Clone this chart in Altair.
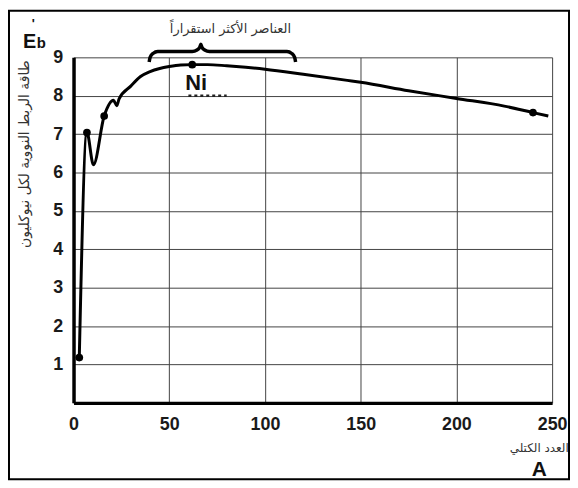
import altair as alt
import pandas as pd

# ---- data ----
mass_number = [3, 7, 10.4, 16, 20.9, 22.6, 23.8, 29.9, 35, 40, 45, 50, 56, 62, 70, 80, 90,
               100, 120, 143, 150, 175, 200, 225, 240, 248]
binding_energy = [1.18, 7.04, 6.2, 7.47, 7.88, 7.74, 7.92, 8.25, 8.5, 8.63, 8.71, 8.76, 8.8, 8.81,
                  8.81, 8.78, 8.74, 8.69, 8.56, 8.4, 8.35, 8.13, 7.93, 7.73, 7.56, 7.47]
marked_A = [3, 7, 16, 62, 240]
marked_E = [1.18, 7.04, 7.47, 8.81, 7.56]

x_ticks = [0, 50, 100, 150, 200, 250]
y_ticks = [1, 2, 3, 4, 5, 6, 7, 8, 9]

brace_A = [39.5, 40, 41.5, 44, 62, 64.5, 66, 66.5, 67, 68.5, 71, 111.5, 114, 115.5, 116]
brace_E = [8.88, 9.0, 9.1, 9.15, 9.15, 9.19, 9.27, 9.34, 9.27, 9.19, 9.15, 9.15, 9.1, 9.0, 8.88]

ni_dots_A = [60, 80]
ni_dots_E = [8.0, 8.0]

y_title = "طاقة الربط النووية لكل نيوكليون"
x_title = "العدد الكتلي"
top_note = "العناصر الأكثر استقراراً"

W, H = 482, 348
LABEL_FONT = "Liberation Sans Narrow, Arial Narrow, Liberation Sans, sans-serif"
AR_FONT = "DejaVu Sans, Noto Sans, sans-serif"

curve = pd.DataFrame({"A": mass_number, "E": binding_energy})
marks = pd.DataFrame({"A": marked_A, "E": marked_E})
brace = pd.DataFrame({"A": brace_A, "E": brace_E})
dots = pd.DataFrame({"A": ni_dots_A, "E": ni_dots_E})
one = pd.DataFrame({"k": [0]})

xscale = alt.Scale(domain=[0, 250], nice=False, zero=False)
yscale = alt.Scale(domain=[0, 9], nice=False, zero=False)

xaxis = alt.Axis(values=x_ticks, grid=True, gridColor="#444", gridWidth=1, domainColor="black",
                 domainWidth=3.5, ticks=False, labelFont=LABEL_FONT, labelFontSize=18,
                 labelFontWeight="bold", labelColor="#1a1a1a", labelPadding=13, title=None,
                 labelFlush=False)
yaxis = alt.Axis(values=y_ticks, grid=True, gridColor="#444", gridWidth=1, domainColor="black",
                 domainWidth=3.5, ticks=False, labelFont=LABEL_FONT, labelFontSize=18,
                 labelFontWeight="bold", labelColor="#1a1a1a", labelPadding=11,
                 title=y_title, titleFont=AR_FONT, titleFontSize=14, titleFontWeight="normal",
                 titleColor="#333", titleAngle=270, titleX=-49, titleY=97,
                 titleAlign="center", titleBaseline="middle", labelFlush=False)

frame = alt.Chart(one).mark_rect(fill=None, stroke="black", strokeWidth=2).encode(
    x=alt.value(-65), x2=alt.value(W + 17), y=alt.value(-47), y2=alt.value(H + 77)
)

line = alt.Chart(curve).mark_line(color="black", strokeWidth=3, interpolate="monotone").encode(
    x=alt.X("A:Q", scale=xscale, axis=xaxis),
    y=alt.Y("E:Q", scale=yscale, axis=yaxis),
)

pts = alt.Chart(marks).mark_circle(color="black", size=60, opacity=1).encode(
    x=alt.X("A:Q", scale=xscale), y=alt.Y("E:Q", scale=yscale)
)

brace_line = alt.Chart(brace).mark_line(color="black", strokeWidth=3.5, interpolate="monotone").encode(
    x=alt.X("A:Q", scale=xscale), y=alt.Y("E:Q", scale=yscale)
)

ni_dots = alt.Chart(dots).mark_line(color="#222", strokeWidth=2.5, strokeDash=[3, 3]).encode(
    x=alt.X("A:Q", scale=xscale), y=alt.Y("E:Q", scale=yscale)
)

ni_label = alt.Chart(pd.DataFrame({"A": [64], "E": [8.33], "t": ["Ni"]})).mark_text(
    font="Liberation Sans, Arial, sans-serif", fontSize=22, fontWeight="bold", color="#111",
    align="center", baseline="middle"
).encode(x=alt.X("A:Q", scale=xscale), y=alt.Y("E:Q", scale=yscale), text="t:N")

def label(txt, x, y, size, weight="normal", font=AR_FONT, align="center", baseline="middle", color="#222"):
    return alt.Chart(one).mark_text(
        text=txt, fontSize=size, fontWeight=weight, font=font, align=align,
        baseline=baseline, color=color
    ).encode(x=alt.value(x), y=alt.value(y))

ann = [
    label("E", -51, -9, 20, "bold", "Liberation Sans, Arial, sans-serif", "left", "alphabetic", "#111"),
    label("b", -37, -9, 15, "bold", "Liberation Sans, Arial, sans-serif", "left", "alphabetic", "#111"),
    label("'", -42, -30, 13, "bold", "Liberation Sans, Arial, sans-serif", "left", "alphabetic", "#111"),
    label(top_note, 158, -29, 13, color="#333"),
    label(x_title, 469, 393, 12, color="#333"),
    label("A", 469, 416, 21, "bold", "Liberation Sans, Arial, sans-serif", color="#111"),
]

chart = alt.layer(frame, line, brace_line, ni_dots, pts, ni_label, *ann).properties(
    width=W, height=H,
    padding={"left": 66, "top": 48, "right": 18, "bottom": 78},
    autosize=alt.AutoSizeParams(type="none"),
    background="white",
).configure_view(stroke=None)

chart.save("out.html", embed_options={"renderer": "svg", "actions": False})
